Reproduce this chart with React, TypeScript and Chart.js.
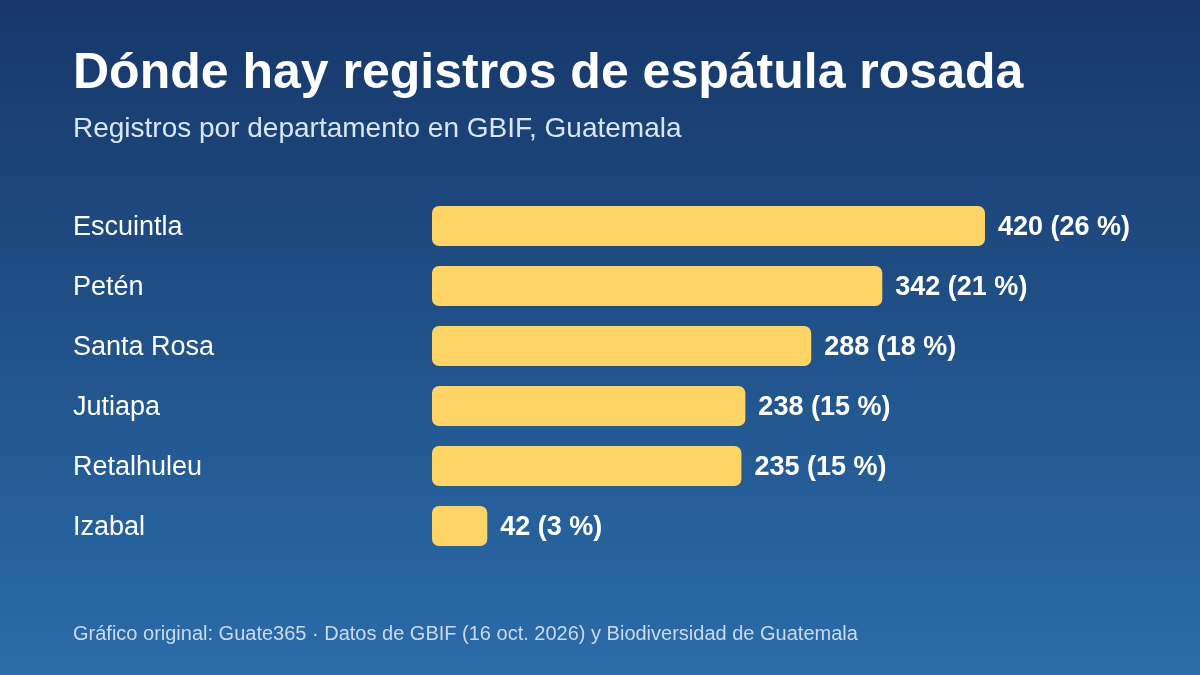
import React, { useEffect, useRef } from "react";
import { Chart, registerables } from "chart.js";

Chart.register(...registerables);

const departamentos = ["Escuintla", "Petén", "Santa Rosa", "Jutiapa", "Retalhuleu", "Izabal"];
const registros = [420, 342, 288, 238, 235, 42];
const porcentajes = [26, 21, 18, 15, 15, 3];

const titulo = "Dónde hay registros de espátula rosada";
const subtitulo = "Registros por departamento en GBIF, Guatemala";
const fuente = "Gráfico original: Guate365 · Datos de GBIF (16 oct. 2026) y Biodiversidad de Guatemala";

const FONT = '"Liberation Sans", Arial, Helvetica, sans-serif';

export default function App() {
  const ref = useRef<HTMLCanvasElement | null>(null);

  useEffect(() => {
    if (!ref.current) return;
    const bgPlugin = {
      id: "bg",
      beforeDraw(chart: any) {
        const { ctx, width, height } = chart;
        ctx.save();
        const g = ctx.createLinearGradient(0, 0, 0, height);
        g.addColorStop(0, "#17376a");
        g.addColorStop(1, "#2b6ca9");
        ctx.fillStyle = g;
        ctx.fillRect(0, 0, width, height);
        ctx.restore();
      },
      afterDraw(chart: any) {
        const { ctx } = chart;
        ctx.save();
        ctx.textBaseline = "alphabetic";
        ctx.textAlign = "left";
        ctx.fillStyle = "#ffffff";
        ctx.font = `bold 50px ${FONT}`;
        ctx.fillText(titulo, 73, 88);
        ctx.fillStyle = "#d8e6f5";
        ctx.font = `28px ${FONT}`;
        ctx.fillText(subtitulo, 73, 137);
        ctx.fillStyle = "#c9daee";
        ctx.font = `20px ${FONT}`;
        ctx.fillText(fuente, 73, 640);
        ctx.restore();
      },
    };
    const valuePlugin = {
      id: "values",
      afterDatasetsDraw(chart: any) {
        const { ctx } = chart;
        const meta = chart.getDatasetMeta(0);
        ctx.save();
        ctx.fillStyle = "#ffffff";
        ctx.font = `bold 27px ${FONT}`;
        ctx.textAlign = "left";
        ctx.textBaseline = "middle";
        meta.data.forEach((bar: any, i: number) => {
          ctx.fillText(`${registros[i]} (${porcentajes[i]} %)`, bar.x + 13, bar.y + 2);
        });
        ctx.restore();
      },
    };
    const chart = new Chart(ref.current, {
      type: "bar",
      data: {
        labels: departamentos,
        datasets: [
          {
            data: registros,
            backgroundColor: "#fed466",
            borderRadius: 7,
            borderSkipped: false,
            barPercentage: 40 / 60,
            categoryPercentage: 1,
          },
        ],
      },
      options: {
        indexAxis: "y",
        animation: false,
        responsive: false,
        layout: { padding: { top: 196, bottom: 119, left: 73, right: 109.67 } },
        plugins: { legend: { display: false }, tooltip: { enabled: false } },
        scales: {
          x: { display: false, min: 0, max: 500 },
          y: {
            grid: { display: false },
            border: { display: false },
            afterFit(scale: any) {
              scale.width = 432 - 73;
            },
            ticks: {
              crossAlign: "far",
              color: "#ffffff",
              padding: 0,
              labelOffset: 2,
              font: { family: FONT, size: 27 },
            },
          },
        },
      },
      plugins: [bgPlugin, valuePlugin],
    });
    return () => chart.destroy();
  }, []);

  return (
    <div style={{ position: "fixed", left: 0, top: 0, width: 1200, height: 675 }}>
      <canvas ref={ref} width={1200} height={675} style={{ display: "block" }} />
    </div>
  );
}
